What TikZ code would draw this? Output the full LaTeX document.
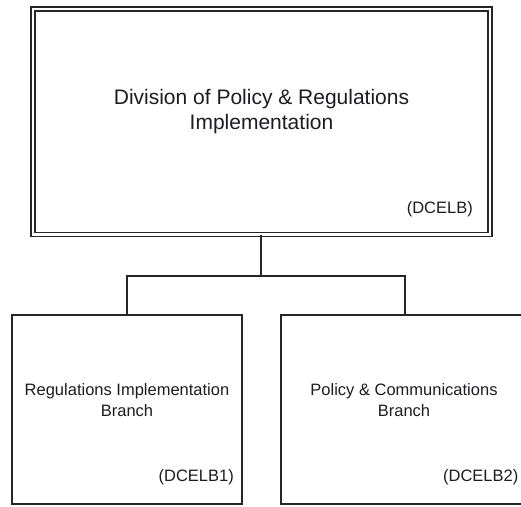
\documentclass[tikz,border=0pt]{standalone}
\usepackage{fontspec}
\setmainfont{Liberation Sans}
\definecolor{linec}{HTML}{262626}
\definecolor{textc}{HTML}{1C1C24}
\begin{document}
\begin{tikzpicture}[x=1pt,y=-1pt,
  topbox/.style={draw=linec, line width=1.5pt, double=white, double distance=2.4pt,
    rectangle, inner sep=0pt, outer sep=0pt, minimum width=457pt, minimum height=225.5pt},
  subbox/.style={draw=linec, line width=1.6pt, rectangle, inner sep=0pt, outer sep=0pt,
    minimum height=189pt},
  titletext/.style={text=textc, align=center, inner sep=0pt,
    font=\fontsize{21pt}{25pt}\selectfont},
  subtext/.style={text=textc, align=center, inner sep=0pt,
    font=\fontsize{16.5pt}{21pt}\selectfont},
  idtext/.style={text=textc, inner sep=0pt, anchor=east,
    font=\fontsize{16.5pt}{21pt}\selectfont},
  conn/.style={draw=linec, line width=1.9pt}
]
\path[use as bounding box] (0,0) rectangle (521,506);
\clip (0,0) rectangle (521,506);
\fill[white] (0,0) rectangle (521,506);

\node[topbox] (top) at (261.5,121.75) {};
\node[titletext] (toptitle) at (261.5,112) {Division of Policy \& Regulations\\Implementation};
\node[idtext] (topid) at (473,209) {(DCELB)};

\node[subbox, minimum width=230pt] (left) at (127,409.5) {};
\node[subtext] (lefttitle) at (127,400) {Regulations Implementation\\Branch};
\node[idtext] (leftid) at (234,477) {(DCELB1)};

\node[subbox, minimum width=248pt] (right) at (405,409.5) {};
\node[subtext] (righttitle) at (404,400) {Policy \& Communications\\Branch};
\node[idtext] (rightid) at (518.5,477) {(DCELB2)};

\coordinate (junc) at (261,276);
\draw[conn] (top.south -| junc) -- (junc);
\draw[conn] (junc) -| (left.north);
\draw[conn] (junc) -| (right.north);
\end{tikzpicture}
\end{document}
